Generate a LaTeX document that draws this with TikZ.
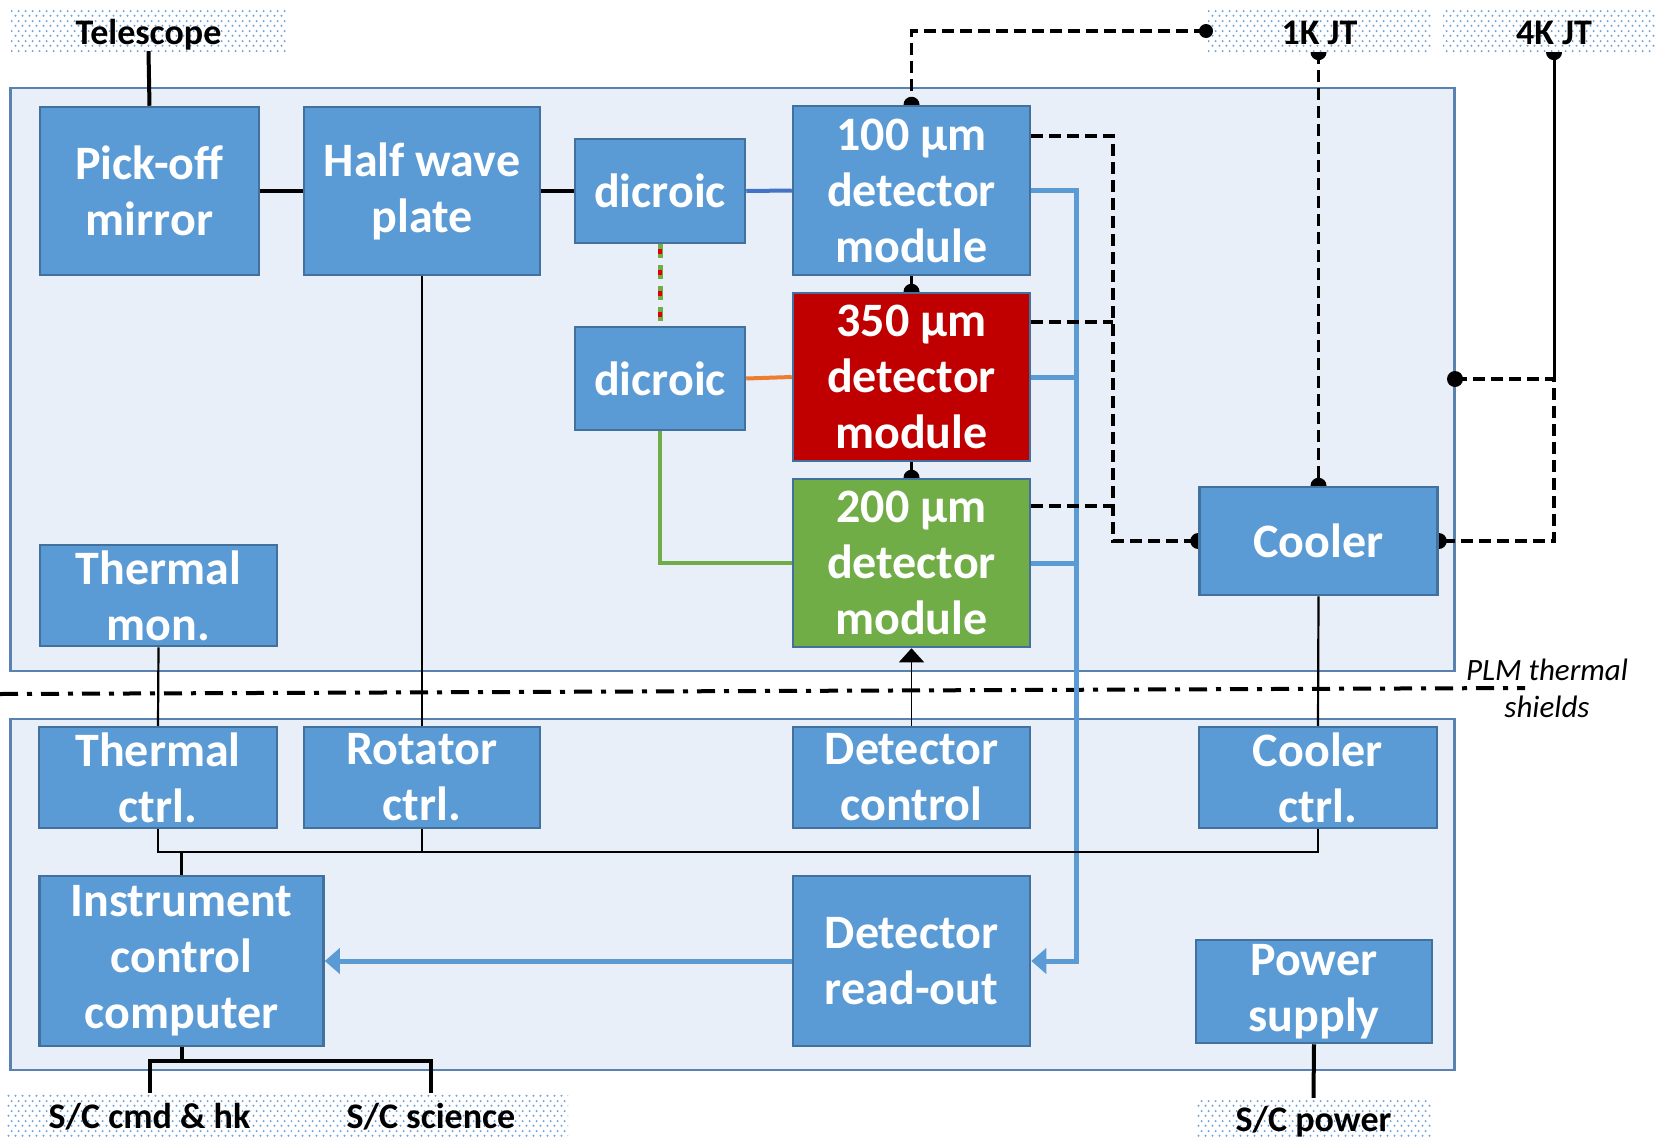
\documentclass[tikz,border=0pt]{standalone}
\usepackage{fontspec}
\setmainfont{Carlito}
\usetikzlibrary{arrows.meta,patterns.meta,calc}
\definecolor{boxblue}{HTML}{5B9BD5}
\definecolor{boxedge}{HTML}{41719C}
\definecolor{redbox}{HTML}{C00000}
\definecolor{greenbox}{HTML}{70AD47}
\definecolor{contfill}{HTML}{E9EFF8}
\definecolor{contedge}{HTML}{5A82B0}
\definecolor{lnblue}{HTML}{5B9BD5}
\definecolor{dkblue}{HTML}{4472C4}
\definecolor{orangeln}{HTML}{ED7D31}
\definecolor{dotblue}{HTML}{6FA3DC}
\definecolor{redln}{HTML}{E00000}
\tikzdeclarepattern{name=labeldots, type=uncolored, bounding box={(0,0) and (7pt,10pt)}, tile size={(7pt,10pt)}, code={\fill (1.75pt,2.5pt) circle (1.25pt); \fill (5.25pt,7.5pt) circle (1.25pt);}}
\pgfdeclarelayer{bg}\pgfdeclarelayer{lines}\pgfdeclarelayer{front}
\pgfsetlayers{bg,lines,main,front}
\newcommand\bxfont{\fontsize{48}{56}\selectfont\bfseries}
\newcommand\lbfont{\fontsize{36}{40}\selectfont\bfseries}
\newcommand\plmfont{\fontsize{31}{37}\selectfont\itshape}
\begin{document}
\begin{tikzpicture}[x=1pt,y=-1pt,
  box/.style={draw=boxedge,line width=2.5pt,fill=boxblue,text=white,font=\bxfont,align=center,inner sep=0pt},
  lbl/.style={preaction={fill=white},pattern=labeldots,pattern color=dotblue,font=\lbfont,text=black,inner sep=0pt,align=center},
  toplbl/.style={lbl,text height=30pt,text depth=0pt},
  cont/.style={draw=contedge,line width=2.5pt,fill=contfill,inner sep=0pt},
  blk/.style={draw=black,line width=4pt},
  thinln/.style={draw=black,line width=2.2pt},
  dsh/.style={draw=black,line width=3.5pt,dash pattern=on 12pt off 6pt},
  blueln/.style={draw=lnblue,line width=5pt},
  bluetip/.style={-{Triangle[length=15pt,width=25pt]}},
]
\useasboundingbox (0,0) rectangle (1655,1138);

\begin{pgfonlayer}{bg}
\node[cont,minimum width=1444pt,minimum height=583pt] (plmbox) at (732.5,379.5) {};
\node[cont,minimum width=1444pt,minimum height=351pt] (svmbox) at (732.5,894.5) {};
\end{pgfonlayer}

% boxes
\node[box,minimum width=219pt,minimum height=168pt] (pm) at (149.5,191) {Pick-off\\mirror};
\node[box,minimum width=236pt,minimum height=168pt] (hwp) at (422,191) {Half wave\\plate};
\node[box,minimum width=170pt,minimum height=104pt] (d1) at (660,191) {dicroic};
\node[box,minimum width=237pt,minimum height=169pt] (m100) at (911.5,190.5) {100 µm\\detector\\module};
\node[box,fill=redbox,minimum width=237pt,minimum height=168pt] (m350) at (911.5,377) {350 µm\\detector\\module};
\node[box,fill=greenbox,minimum width=237pt,minimum height=168pt] (m200) at (911.5,563) {200 µm\\detector\\module};
\node[box,minimum width=170pt,minimum height=103pt] (d2) at (660,378.5) {dicroic};
\node[box,minimum width=237pt,minimum height=101pt] (tmon) at (158.5,595.5) {Thermal\\mon.};
\node[box,minimum width=238pt,minimum height=108pt] (cooler) at (1318.5,541) {Cooler};
\node[box,minimum width=238pt,minimum height=101pt] (tctl) at (158,777.5) {Thermal\\ctrl.};
\node[box,minimum width=236pt,minimum height=101pt] (rctl) at (422,777.5) {Rotator\\ctrl.};
\node[box,minimum width=237pt,minimum height=101pt] (dctl) at (911.5,777.5) {Detector\\control};
\node[box,minimum width=238pt,minimum height=101pt] (cctl) at (1318,777.5) {Cooler\\ctrl.};
\node[box,minimum width=284pt,minimum height=170pt] (icc) at (181.5,961) {Instrument\\control\\computer};
\node[box,minimum width=237pt,minimum height=170pt] (ro) at (911.5,961) {Detector\\read-out};
\node[box,minimum width=236pt,minimum height=103pt] (ps) at (1314,991.5) {Power\\supply};

% external labels
\node[toplbl,minimum width=275pt,minimum height=44pt] (tel) at (148.5,29) {Telescope};
\node[toplbl,minimum width=223pt,minimum height=45pt] (jt1) at (1319.5,29.5) {1K JT};
\node[toplbl,minimum width=222pt,minimum height=45pt] (jt4) at (1554,29.5) {4K JT};
\node[lbl,minimum width=285pt,minimum height=48pt] (sccmd) at (149.5,1117) {S/C cmd \& hk};
\node[lbl,minimum width=274pt,minimum height=48pt] (scsci) at (431,1117) {S/C science};
\node[lbl,minimum width=235pt,minimum height=48pt] (scpow) at (1313.5,1122) {S/C power};
\node[font=\plmfont,align=center,inner sep=0pt] (plm) at (1547,688.5) {PLM thermal\\shields};

\begin{pgfonlayer}{lines}
% thermal shield line
\coordinate (ddl) at (0,694);
\coordinate (ddr) at (1525,688);
\draw[line width=4pt,dash pattern=on 18pt off 9pt on 5pt off 9pt] (ddl) -- (ddr);

% optical path
\draw[blk] (tel.south) -- (pm.north);
\draw[blk] (pm.east) -- (hwp.west);
\draw[blk] (hwp.east) -- (d1.west);
\draw[draw=dkblue,line width=4pt] (d1.east) -- (m100.west);
\draw[draw=orangeln,line width=4pt] (d2.east) -- (m350.west);
\draw[draw=greenbox,line width=4pt] (d2.south) |- (m200.west);
\draw[draw=greenbox,line width=5pt,dash pattern=on 14pt off 7pt] (d1.south) -- (d2.north);
\draw[draw=redln,line width=3.5pt,dash pattern=on 5pt off 16pt,dash phase=16.5pt] (d1.south) -- (d2.north);

% detector signal lines
\coordinate (bbx) at (1076,0);
\draw[blueln,bluetip] (m100.east) -| (ro.east -| bbx) -- (ro.east);
\draw[blueln] (m350.east) -- (m350.east -| bbx);
\draw[blueln] (m200.east) -- (m200.east -| bbx);
\draw[blueln,bluetip] (ro.west) -- (icc.east);

% thermal (dashed) links
\coordinate (dbx) at (1113,0);
\coordinate (d100) at ([yshift=-31pt]m100.north east);
\coordinate (d350) at ([yshift=-30pt]m350.north east);
\coordinate (d200) at ([yshift=-28pt]m200.north east);
\draw[dsh] (d100) -| (cooler.west -| dbx) -- (cooler.west);
\draw[dsh] (d350) -- (d350 -| dbx);
\draw[dsh] (d200) -- (d200 -| dbx);
\coordinate (jdot) at (1206,31);
\draw[dsh] (jdot) -| (m100.north);
\draw[dsh] (m100.south) -- (m350.north);
\draw[dsh] (m350.south) -- (m200.north);
\coordinate (jt1b) at (jt1.south -| cooler.north);
\draw[dsh] (jt1b) -- (cooler.north);
\coordinate (kdot) at (1455,379);
\draw[draw=black,line width=3pt] (jt4.south) -- (jt4.south |- kdot);
\draw[dsh] (kdot) -- (jt4.south |- kdot) |- (cooler.east);

% half dots at the ends
\foreach \p in {m100.north,m350.north,m200.north,cooler.west,cooler.east,cooler.north,jt1b,jt4.south}
  \fill (\p) circle (8pt);

% control wiring
\draw[thinln] (hwp.south) -- (rctl.north);
\draw[thinln] (tmon.south) -- (tctl.north);
\draw[thinln] (cooler.south) -- (cctl.north);
\draw[draw=black,line width=1.5pt,-{Triangle[length=14pt,width=25pt]}] (dctl.north) -- (m200.south);
\coordinate (busy) at (0,852);
\draw[thinln] (tctl.south) |- (busy -| cctl.south) -- (cctl.south);
\draw[thinln] (rctl.south) -- (rctl.south |- busy);
\draw[thinln] (icc.north) -- (icc.north |- busy);

% spacecraft interfaces
\coordinate (sply) at (0,1061);
\draw[blk] (icc.south) -- (icc.south |- sply);
\draw[blk] (sccmd.north) |- (scsci.north |- sply) -- (scsci.north);
\draw[blk] (ps.south) -- (scpow.north);
\end{pgfonlayer}

\begin{pgfonlayer}{front}
\fill (jdot) circle (7pt);
\fill (kdot) circle (8pt);
\end{pgfonlayer}
\end{tikzpicture}
\end{document}
